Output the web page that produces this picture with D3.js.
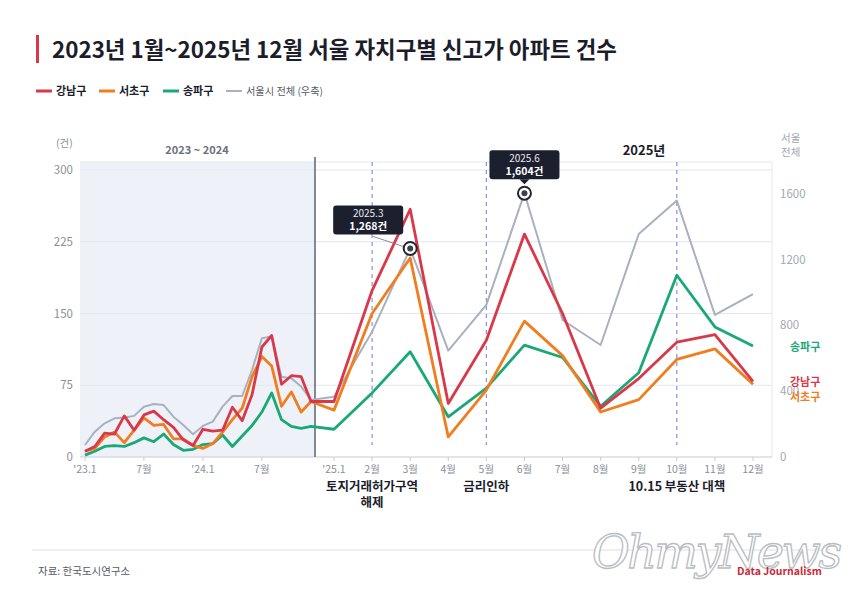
<!DOCTYPE html>
<html>
<head>
<meta charset="utf-8">
<script src="https://cdn.jsdelivr.net/npm/d3@7"></script>
<style>
  body { margin: 0; background: #fff; }
  svg { display: block; font-family: "Noto Sans CJK KR", "Noto Sans", sans-serif; }
</style>
</head>
<body>
<svg id="chart" width="860" height="605"></svg>
<script>
// month labels (only labelled ones get a tick)
let monthLabels = ["'23.1","","","","","","7월","","","","","",
                   "'24.1","","","","","","7월","","","","","",
                   "'25.1","2월","3월","4월","5월","6월","7월","8월","9월","10월","11월","12월"]

let gangnam = [6,11,25,24,43,28,44,48,39,31,18,12,29,27,28,52,38,65,115,127,76,85,84,58,
               58,174,259,56,122,233,150,51,82,120,128,79]
let seocho  = [6,9,21,26,15,28,41,33,34,19,19,12,9,14,26,39,51,84,105,95,53,68,47,58,
               49,150,208,21,70,142,106,47,60,102,113,76]
let songpa  = [2,6,11,12,11,15,20,16,24,13,7,8,13,14,23,11,22,33,47,67,39,32,30,32,
               29,67,110,42,72,117,104,53,88,190,136,116]
let seoul   = [73,154,205,235,240,250,306,322,316,245,195,138,189,215,306,371,371,529,722,732,488,478,428,347,
               367,762,1268,647,925,1604,833,681,1356,1559,864,991]

let leftTicks = [0, 75, 150, 225, 300]
let rightTicks = [0, 400, 800, 1200, 1600]

// policy events: index of month + label lines
let events = [
    {i: 25, lines: ["토지거래허가구역", "해제"]},
    {i: 28, lines: ["금리인하"]},
    {i: 33, lines: ["10.15 부동산 대책"]}
]
let callouts = [{i: 26, label: "2025.3"}, {i: 29, label: "2025.6"}]

let series = [
    {name: "송파구", values: songpa, color: "#1aa876"},
    {name: "서초구", values: seocho, color: "#f07d1e"},
    {name: "강남구", values: gangnam, color: "#d93848"}
]

let svg = d3.select("#chart")

let plotLeft = 80, plotRight = 772, plotTop = 162, plotBottom = 457

// 2023-2024 squeezed, 2025 wide
let x = d3.scaleLinear().domain([0, 23, 24, 35]).range([85, 311, 334, 753])
let y = d3.scaleLinear().domain([0, 300]).range([plotBottom, 170])
let yR = d3.scaleLinear().domain([0, 1745]).range([plotBottom, 170])

// title
svg.append("rect").attr("x", 36).attr("y", 35).attr("width", 3).attr("height", 28).attr("fill", "#d93848")
svg.append("text").attr("x", 52).attr("y", 58)
    .attr("font-size", 22.4).attr("font-weight", 700).attr("fill", "#1b1d2b")
    .text("2023년 1월~2025년 12월 서울 자치구별 신고가 아파트 건수")

// legend
let legendItems = [
    {name: "강남구", color: "#d93848", x: 36, bold: true},
    {name: "서초구", color: "#f07d1e", x: 99, bold: true},
    {name: "송파구", color: "#1aa876", x: 163, bold: true},
    {name: "서울시 전체 (우축)", color: "#a9b0c0", x: 226, bold: false}
]
legendItems.forEach(d => {
    svg.append("line").attr("x1", d.x).attr("x2", d.x + 16).attr("y1", 91).attr("y2", 91)
        .attr("stroke", d.color).attr("stroke-width", d.bold ? 3 : 2)
    svg.append("text").attr("x", d.x + 20).attr("y", 95)
        .attr("font-size", d.bold ? 11 : 10.2).attr("font-weight", d.bold ? 700 : 400)
        .attr("fill", d.bold ? "#1b1d2b" : "#555b66").text(d.name)
})

// shaded 2023-2024 area
svg.append("rect").attr("x", plotLeft).attr("y", plotTop)
    .attr("width", 315 - plotLeft).attr("height", plotBottom - plotTop).attr("fill", "#eef2f8")

// plot frame (top/right)
svg.append("line").attr("x1", plotLeft).attr("x2", plotRight).attr("y1", plotTop).attr("y2", plotTop)
    .attr("stroke", "#e4e8ef")
svg.append("line").attr("x1", plotRight).attr("x2", plotRight).attr("y1", plotTop).attr("y2", plotBottom)
    .attr("stroke", "#e4e8ef")

// grid
svg.append("g").selectAll("line").data(leftTicks.slice(1)).enter().append("line")
    .attr("x1", plotLeft).attr("x2", plotRight)
    .attr("y1", d => y(d)).attr("y2", d => y(d))
    .attr("stroke", "#e2e6ee")

// left axis labels
svg.append("g").selectAll("text").data(leftTicks).enter().append("text")
    .attr("x", 73).attr("y", d => y(d) + 4).attr("text-anchor", "end")
    .attr("font-size", 11.5).attr("fill", "#8a8f99").text(d => d)
svg.append("text").attr("x", 56).attr("y", 147).attr("font-size", 10.5).attr("fill", "#8a8f99").text("(건)")

// right axis labels
svg.append("g").selectAll("text").data(rightTicks).enter().append("text")
    .attr("x", 780).attr("y", d => yR(d) + 4)
    .attr("font-size", 11.5).attr("fill", "#a3a8b2").text(d => d)
svg.append("text").attr("x", 781).attr("y", 142).attr("font-size", 10.5).attr("fill", "#a3a8b2").text("서울")
svg.append("text").attr("x", 781).attr("y", 156).attr("font-size", 10.5).attr("fill", "#a3a8b2").text("전체")

// section headings
svg.append("text").attr("x", 197).attr("y", 154).attr("text-anchor", "middle")
    .attr("font-size", 11).attr("font-weight", 700).attr("fill", "#6b7180").text("2023 ~ 2024")
svg.append("text").attr("x", 644).attr("y", 155).attr("text-anchor", "middle")
    .attr("font-size", 13).attr("font-weight", 700).attr("fill", "#1b1d2b").text("2025년")

// event dashed lines
svg.append("g").selectAll("line").data(events).enter().append("line")
    .attr("x1", d => x(d.i)).attr("x2", d => x(d.i))
    .attr("y1", plotTop).attr("y2", 445)
    .attr("stroke", "#8f8be6").attr("stroke-width", 1.2).attr("stroke-dasharray", "4,4")

// bottom axis
svg.append("line").attr("x1", plotLeft).attr("x2", plotRight).attr("y1", plotBottom).attr("y2", plotBottom)
    .attr("stroke", "#c8ccd4").attr("stroke-width", 1.2)
let tickIdx = monthLabels.map((d, i) => i).filter(i => monthLabels[i] !== "")
let xt = svg.append("g")
xt.selectAll("line").data(tickIdx).enter().append("line")
    .attr("x1", i => x(i)).attr("x2", i => x(i)).attr("y1", plotBottom).attr("y2", plotBottom + 4)
    .attr("stroke", "#c8ccd4")
xt.selectAll("text").data(tickIdx).enter().append("text")
    .attr("x", i => x(i)).attr("y", 473).attr("text-anchor", "middle")
    .attr("font-size", 10.5).attr("fill", "#8a8f99").text(i => monthLabels[i])

// divider between periods
svg.append("line").attr("x1", 315).attr("x2", 315).attr("y1", 157).attr("y2", plotBottom)
    .attr("stroke", "#5d6472").attr("stroke-width", 1.5)

// event labels
events.forEach(ev => {
    ev.lines.forEach((t, k) => {
        svg.append("text").attr("x", x(ev.i)).attr("y", 491 + k * 16).attr("text-anchor", "middle")
            .attr("font-size", 12.5).attr("font-weight", 700).attr("fill", "#1b1d2b").text(t)
    })
})

// Seoul total line (right axis)
let lineR = d3.line().x((d, i) => x(i)).y(d => yR(d))
svg.append("path").datum(seoul).attr("d", lineR)
    .attr("fill", "none").attr("stroke", "#a9b0c0").attr("stroke-width", 2).attr("stroke-linejoin", "round")

// district lines
let lineL = d3.line().x((d, i) => x(i)).y(d => y(d))
series.forEach(s => {
    svg.append("path").datum(s.values).attr("d", lineL)
        .attr("fill", "none").attr("stroke", s.color).attr("stroke-width", 2.8).attr("stroke-linejoin", "round")
})

// end labels
let endLabels = [
    {name: "송파구", color: "#1aa876", y: 351},
    {name: "강남구", color: "#d93848", y: 386},
    {name: "서초구", color: "#f07d1e", y: 401}
]
endLabels.forEach(d => {
    svg.append("text").attr("x", 790).attr("y", d.y).attr("font-size", 11).attr("font-weight", 700)
        .attr("fill", d.color).text(d.name)
})

// callouts on the Seoul line
callouts.forEach((c, k) => {
    let cx = x(c.i), cy = yR(seoul[c.i])
    let bw = 70, bh = 29, bx, by
    if (k === 0) {
        bx = cx - 77; by = cy - 43
        svg.append("line").attr("x1", bx + 40).attr("y1", by + bh + 2).attr("x2", cx - 7).attr("y2", cy - 2)
            .attr("stroke", "#6b7180").attr("stroke-width", 0.8)
    } else {
        bx = cx - bw / 2; by = cy - 43
        svg.append("path")
            .attr("d", `M${cx - 5},${by + bh} L${cx},${by + bh + 5} L${cx + 5},${by + bh} Z`)
            .attr("fill", "#1c1f2e")
    }
    svg.append("rect").attr("x", bx).attr("y", by).attr("width", bw).attr("height", bh)
        .attr("rx", 3).attr("fill", "#1c1f2e")
    svg.append("text").attr("x", bx + bw / 2).attr("y", by + 12).attr("text-anchor", "middle")
        .attr("font-size", 10).attr("fill", "#e8eaf0").text(c.label)
    svg.append("text").attr("x", bx + bw / 2).attr("y", by + 25).attr("text-anchor", "middle")
        .attr("font-size", 10.5).attr("font-weight", 700).attr("fill", "#ffffff")
        .text(d3.format(",")(seoul[c.i]) + "건")
    svg.append("circle").attr("cx", cx).attr("cy", cy).attr("r", 6.5)
        .attr("fill", "#fff").attr("stroke", "#23262f").attr("stroke-width", 2)
    svg.append("circle").attr("cx", cx).attr("cy", cy).attr("r", 3).attr("fill", "#3a4250")
})

// footer
svg.append("line").attr("x1", 32).attr("x2", 830).attr("y1", 550).attr("y2", 550)
    .attr("stroke", "#dcdfe4")
svg.append("text").attr("x", 38).attr("y", 575).attr("font-size", 10.5).attr("fill", "#555b66")
    .text("자료: 한국도시연구소")

// watermark
svg.append("text").attr("x", 592).attr("y", 568)
    .attr("font-family", "DejaVu Serif").attr("font-style", "italic").attr("font-size", 46)
    .attr("textLength", 250).attr("fill", "#ffffff").attr("stroke", "#b9bcc2").attr("stroke-width", 1.3)
    .text("OhmyNews")
svg.append("text").attr("x", 737).attr("y", 575).attr("font-size", 10.5).attr("font-weight", 700)
    .attr("fill", "#c8283a").text("Data Journalism")
</script>
</body>
</html>
